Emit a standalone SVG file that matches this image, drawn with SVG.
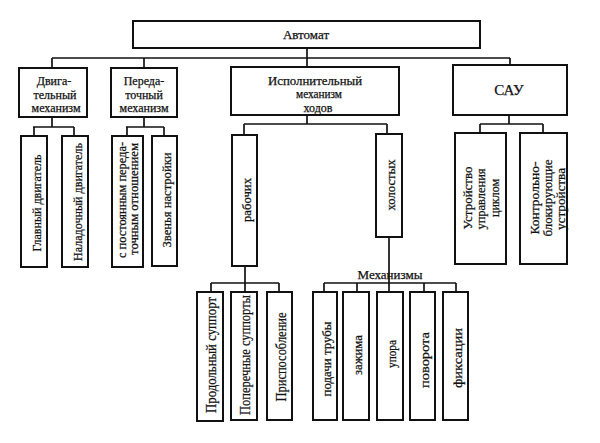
<svg xmlns="http://www.w3.org/2000/svg" width="600" height="443" viewBox="0 0 600 443">
<style>
.b{fill:#fff;stroke:#111;stroke-width:2}
.c line{stroke:#111;stroke-width:1.7}
text{font-family:"Liberation Serif","Times New Roman",serif;font-size:12px;fill:#111;stroke:#111;stroke-width:0.25}
.v{text-anchor:middle;dominant-baseline:central}
.h{text-anchor:middle}
.m{font-size:13px}
.l{font-size:14px}
</style>
<rect width="600" height="443" fill="#fff"/>
<g id="connectors" class="c">
<line x1="307" y1="48" x2="307" y2="67"/>
<line x1="52" y1="58" x2="510" y2="58"/>
<line x1="52" y1="58" x2="52" y2="68"/>
<line x1="144" y1="58" x2="144" y2="68"/>
<line x1="510" y1="58" x2="510" y2="65"/>
<line x1="52" y1="117" x2="52" y2="127"/>
<line x1="33" y1="127" x2="74" y2="127"/>
<line x1="34" y1="127" x2="34" y2="136"/>
<line x1="74" y1="127" x2="74" y2="136"/>
<line x1="144" y1="117" x2="144" y2="127"/>
<line x1="126" y1="127" x2="164" y2="127"/>
<line x1="127" y1="127" x2="127" y2="136"/>
<line x1="164" y1="127" x2="164" y2="136"/>
<line x1="307" y1="115" x2="307" y2="124"/>
<line x1="244" y1="124" x2="387" y2="124"/>
<line x1="244" y1="124" x2="244" y2="135"/>
<line x1="387" y1="124" x2="387" y2="134"/>
<line x1="509" y1="115" x2="509" y2="124"/>
<line x1="480" y1="124" x2="543" y2="124"/>
<line x1="480" y1="124" x2="480" y2="133"/>
<line x1="543" y1="124" x2="543" y2="133"/>
<line x1="245" y1="266" x2="245" y2="283"/>
<line x1="211" y1="283" x2="279" y2="283"/>
<line x1="211" y1="283" x2="211" y2="292"/>
<line x1="245" y1="283" x2="245" y2="292"/>
<line x1="279" y1="283" x2="279" y2="292"/>
<line x1="389" y1="237" x2="389" y2="283"/>
<line x1="324" y1="283" x2="456" y2="283"/>
<line x1="324" y1="283" x2="324" y2="292"/>
<line x1="357" y1="283" x2="357" y2="292"/>
<line x1="389" y1="283" x2="389" y2="292"/>
<line x1="424" y1="283" x2="424" y2="292"/>
<line x1="456" y1="283" x2="456" y2="292"/>
</g>
<g id="avtomat"><rect class="b" x="133" y="21" width="347" height="27"/><text class="h m" x="306" y="39">Автомат</text></g>
<g id="dvig"><rect class="b" x="19" y="68" width="68" height="49"/><text class="h" x="54" y="85">Двига-</text><text class="h" x="55" y="98.5">тельный</text><text class="h" x="56" y="112">механизм</text></g>
<g id="pered"><rect class="b" x="111" y="68" width="66" height="49"/><text class="h" x="144" y="85">Переда-</text><text class="h" x="144" y="98.5">точный</text><text class="h" x="144" y="112">механизм</text></g>
<g id="ispoln"><rect class="b" x="231" y="67" width="168" height="48"/><text class="h" x="315" y="84.5" textLength="94" lengthAdjust="spacingAndGlyphs">Исполнительный</text><text class="h" x="319" y="98" textLength="46" lengthAdjust="spacingAndGlyphs">механизм</text><text class="h" x="318" y="111.5">ходов</text></g>
<g id="sau"><rect class="b" x="453" y="65" width="114" height="50"/><text class="h" x="509" y="95" style="font-size:15px">САУ</text></g>
<g id="glavny"><rect class="b" x="21" y="136" width="26" height="131"/><text class="v m" transform="translate(36,203) rotate(-90)" textLength="97" lengthAdjust="spacingAndGlyphs">Главный двигатель</text></g>
<g id="naladochny"><rect class="b" x="62" y="136" width="26" height="131"/><text class="v m" transform="translate(77,202) rotate(-90)" textLength="118" lengthAdjust="spacingAndGlyphs">Наладочный двигатель</text></g>
<g id="postoyanny"><rect class="b" x="112" y="136" width="31" height="131"/><text class="v" transform="translate(122,200) rotate(-90)" textLength="116" lengthAdjust="spacingAndGlyphs">с постоянным переда-</text><text class="v" transform="translate(134,199) rotate(-90)" textLength="112" lengthAdjust="spacingAndGlyphs">точным отношением</text></g>
<g id="zvenya"><rect class="b" x="152" y="136" width="25" height="130"/><text class="v m" transform="translate(166,200) rotate(-90)" textLength="95" lengthAdjust="spacingAndGlyphs">Звенья настройки</text></g>
<g id="rabochikh"><rect class="b" x="232" y="135" width="25" height="131"/><text class="v" transform="translate(247,200) rotate(-90)" textLength="44" lengthAdjust="spacingAndGlyphs">рабочих</text></g>
<g id="kholostykh"><rect class="b" x="376" y="134" width="26" height="103"/><text class="v" transform="translate(391,185) rotate(-90)" textLength="51" lengthAdjust="spacingAndGlyphs">холостых</text></g>
<g id="ustroystvo"><rect class="b" x="455" y="133" width="51" height="131"/><text class="v m" transform="translate(467,198) rotate(-90)" textLength="63" lengthAdjust="spacingAndGlyphs">Устройство</text><text class="v m" transform="translate(480,199) rotate(-90)" textLength="61" lengthAdjust="spacingAndGlyphs">управления</text><text class="v m" transform="translate(494,198) rotate(-90)" textLength="38" lengthAdjust="spacingAndGlyphs">циклом</text></g>
<g id="kontrolno"><rect class="b" x="520" y="133" width="47" height="131"/><text class="v m" transform="translate(534,198) rotate(-90)" textLength="73" lengthAdjust="spacingAndGlyphs">Контрольно-</text><text class="v m" transform="translate(547,198) rotate(-90)" textLength="77" lengthAdjust="spacingAndGlyphs">блокирующие</text><text class="v m" transform="translate(560,199) rotate(-90)" textLength="62" lengthAdjust="spacingAndGlyphs">устройства</text></g>
<g id="prodolny"><rect class="b" x="197" y="292" width="26" height="129"/><text class="v l" transform="translate(211,355) rotate(-90)" textLength="116" lengthAdjust="spacingAndGlyphs">Продольный суппорт</text></g>
<g id="poperechnye"><rect class="b" x="231" y="292" width="26" height="128"/><text class="v l" transform="translate(245,355) rotate(-90)" textLength="120" lengthAdjust="spacingAndGlyphs">Поперечные суппорты</text></g>
<g id="prisposoblenie"><rect class="b" x="267" y="292" width="25" height="128"/><text class="v l" transform="translate(281,357) rotate(-90)" textLength="89" lengthAdjust="spacingAndGlyphs">Приспособление</text></g>
<text class="h m" x="390" y="279">Механизмы</text>
<g id="podachi"><rect class="b" x="313" y="292" width="24" height="128"/><text class="v" transform="translate(327,359) rotate(-90)" textLength="75" lengthAdjust="spacingAndGlyphs">подачи трубы</text></g>
<g id="zazhima"><rect class="b" x="343" y="292" width="26" height="128"/><text class="v" transform="translate(358,355) rotate(-90)" textLength="40" lengthAdjust="spacingAndGlyphs">зажима</text></g>
<g id="upora"><rect class="b" x="377" y="292" width="26" height="128"/><text class="v" transform="translate(392,354) rotate(-90)" textLength="28" lengthAdjust="spacingAndGlyphs">упора</text></g>
<g id="povorota"><rect class="b" x="410" y="292" width="25" height="128"/><text class="v" transform="translate(425,360) rotate(-90)" textLength="56" lengthAdjust="spacingAndGlyphs">поворота</text></g>
<g id="fiksatsii"><rect class="b" x="443" y="292" width="25" height="128"/><text class="v" transform="translate(458,358) rotate(-90)" textLength="60" lengthAdjust="spacingAndGlyphs">фиксации</text></g>
</svg>
